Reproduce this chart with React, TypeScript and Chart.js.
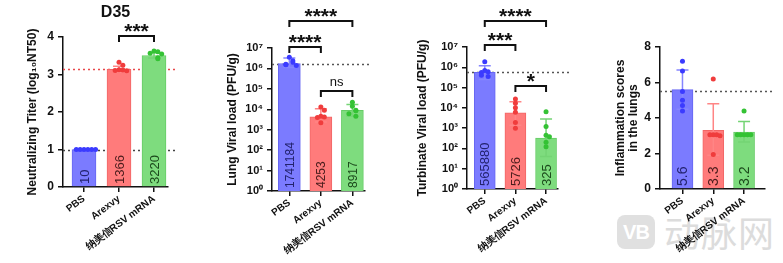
import React, { useEffect, useRef } from 'react';
import { Chart, registerables } from 'chart.js';

Chart.register(...registerables);

const H = 263;
const FONT = '"Liberation Sans", Arial, Helvetica, sans-serif';

// ---------- shared categories & colours ----------
const groups = ['PBS', 'Arexvy', '纳美信RSV mRNA'];
const barFill = ['#7b7bff', '#ff7b7b', '#7edc7e'];
const barEdge = ['#6666f2', '#f26666', '#66cc66'];
const dotColor = ['#3b3bff', '#f03c3c', '#34c234'];
const errColor = ['#8585ff', '#ff8585', '#74d474'];
const inBarText = ['#23236e', '#4a1c1c', '#1c4a1c'];

// ---------- Panel A: neutralizing titer (D35) ----------
const titerGMT = [10, 1366, 3220];
const titerDotsLog = [
  [1, 1, 1, 1, 1, 1],
  [3.33, 3.25, 3.13, 3.12, 3.11, 3.1],
  [3.63, 3.61, 3.57, 3.55, 3.45, 3.42],
];
const titerSdLow = [1.0, 3.06, 3.44];
const titerSdHigh = [1.0, 3.22, 3.58];
const titerTicks = [0, 1, 2, 3, 4];

// ---------- Panel B: lung viral load ----------
const lungMean = [1741184, 4253, 8917];
const lungDots = [
  [3.5e6, 2.4e6, 2.0e6, 1.6e6, 1.5e6, 1.4e6],
  [1.3e4, 9e3, 4.5e3, 4.2e3, 4e3, 2.2e3],
  [2.2e4, 1.4e4, 9e3, 8.5e3, 6e3, 4.5e3],
];
const lungSdLow = [1.1e6, 2.4e3, 4.5e3];
const lungSdHigh = [3.2e6, 1.05e4, 1.7e4];

// ---------- Panel C: turbinate viral load ----------
const turbMean = [565880, 5726, 325];
const turbDots = [
  [1.9e6, 7e5, 6e5, 5.5e5, 4e5, 3.5e5],
  [2.7e4, 1.7e4, 1e4, 6e3, 1.9e3, 1e3],
  [6.5e3, 1.2e3, 450, 380, 200, 120],
];
const turbSdLow = [2.5e5, 1.4e3, 40];
const turbSdHigh = [1.2e6, 2e4, 2.8e3];

const logTicks = [1, 10, 100, 1e3, 1e4, 1e5, 1e6, 1e7];

// ---------- Panel D: inflammation scores ----------
const inflMean = [5.6, 3.3, 3.2];
const inflDots = [
  [7.2, 6.65, 5.5, 5.0, 4.7, 4.4],
  [6.2, 3.05, 3.05, 3.05, 3.0, 1.95],
  [4.4, 3.05, 3.05, 3.05, 3.05, 3.05],
];
const inflSdLow = [4.5, 1.9, 2.65];
const inflSdHigh = [6.7, 4.8, 3.8];
const inflReference = 5.5;
const inflTicks = [0, 2, 4, 6, 8];

// ---------- significance brackets ----------
type Sig = { from: number; to: number; text: string };
const titerSig: Sig[] = [{ from: 1, to: 2, text: '***' }];
const lungSig: Sig[] = [
  { from: 0, to: 1, text: '****' },
  { from: 0, to: 2, text: '****' },
  { from: 1, to: 2, text: 'ns' },
];
const turbSig: Sig[] = [
  { from: 0, to: 1, text: '***' },
  { from: 0, to: 2, text: '****' },
  { from: 1, to: 2, text: '*' },
];

const supDigits = ['⁰', '¹', '²', '³', '⁴', '⁵', '⁶', '⁷', '⁸', '⁹'];
const powLabel = (v: number) => '10' + supDigits[Math.round(Math.log10(v))];

interface PanelCfg {
  left: number;
  width: number;
  area: { l: number; r: number; t: number; b: number };
  xRange: [number, number];
  barThickness: number;
  yType: 'linear' | 'logarithmic';
  yRange: [number, number];
  yTicks: number[];
  yTickLabel: (v: number) => string;
  yTickFont: number;
  yTitle: string | string[];
  yTitleX: number;
  bars: number[];
  barText: string[];
  barTextSize: number;
  dots: number[][];
  sdLow: number[];
  sdHigh: number[];
  refs: { value: number; color: string }[];
  refEnd: number;
  sig: Sig[];
  sigLevels: number[];
  title?: string;
}

const panels: PanelCfg[] = [
  {
    left: 0, width: 190,
    area: { l: 63, r: 168, t: 37, b: 187 },
    xRange: [-0.6, 2.4], barThickness: 24,
    yType: 'linear', yRange: [0, 4], yTicks: titerTicks,
    yTickLabel: (v) => String(v), yTickFont: 12,
    yTitle: 'Neutralizing Titer (log₁₀NT50)', yTitleX: 33,
    bars: titerGMT.map((v) => Math.log10(v)), barText: titerGMT.map(String), barTextSize: 13,
    dots: titerDotsLog, sdLow: titerSdLow, sdHigh: titerSdHigh,
    refs: [
      { value: Math.log10(titerGMT[1]), color: '#e8474a' },
      { value: Math.log10(titerGMT[0]), color: '#444444' },
    ],
    refEnd: 175, sig: titerSig, sigLevels: [4.03], title: 'D35',
  },
  {
    left: 190, width: 195,
    area: { l: 82, r: 175, t: 48, b: 191 },
    xRange: [-0.55, 2.4], barThickness: 22,
    yType: 'logarithmic', yRange: [1, 1e7], yTicks: logTicks,
    yTickLabel: powLabel, yTickFont: 11,
    yTitle: 'Lung Viral load (PFU/g)', yTitleX: 43,
    bars: lungMean, barText: lungMean.map(String), barTextSize: 12,
    dots: lungDots, sdLow: lungSdLow, sdHigh: lungSdHigh,
    refs: [{ value: lungMean[0], color: '#555555' }],
    refEnd: 182, sig: lungSig, sigLevels: [1.12e7, 2.0e8, 8.3e4],
  },
  {
    left: 390, width: 195,
    area: { l: 77, r: 168, t: 47, b: 189 },
    xRange: [-0.58, 2.39], barThickness: 21,
    yType: 'logarithmic', yRange: [1, 1e7], yTicks: logTicks,
    yTickLabel: powLabel, yTickFont: 11,
    yTitle: 'Turbinate Viral load (PFU/g)', yTitleX: 33,
    bars: turbMean, barText: turbMean.map(String), barTextSize: 13,
    dots: turbDots, sdLow: turbSdLow, sdHigh: turbSdHigh,
    refs: [{ value: turbMean[0], color: '#555555' }],
    refEnd: 180, sig: turbSig, sigLevels: [1.2e7, 2.0e8, 1.23e5],
  },
  {
    left: 590, width: 193,
    area: { l: 70, r: 175, t: 47, b: 189 },
    xRange: [-0.73, 2.68], barThickness: 21,
    yType: 'linear', yRange: [0, 8], yTicks: inflTicks,
    yTickLabel: (v) => String(v), yTickFont: 12,
    yTitle: ['Inflammation scores', 'in the lungs'], yTitleX: 31,
    bars: inflMean, barText: inflMean.map((v) => v.toFixed(1)), barTextSize: 14,
    dots: inflDots, sdLow: inflSdLow, sdHigh: inflSdHigh,
    refs: [{ value: inflReference, color: '#555555' }],
    refEnd: 185, sig: [], sigLevels: [],
  },
];

// horizontal spreading of points that share (nearly) the same height
function swarm(norm: number[], tol: number, step: number): number[] {
  return norm.map((v, k) => {
    let n = 0;
    for (let j = 0; j < k; j++) if (Math.abs(norm[j] - v) < tol) n++;
    if (n === 0) return 0;
    return (n % 2 === 1 ? 1 : -1) * Math.ceil(n / 2) * step;
  });
}

function decorPlugin(p: PanelCfg) {
  return {
    id: 'decor',
    beforeDatasetsDraw(chart: any) {
      const { ctx, chartArea, scales } = chart;
      ctx.save();
      ctx.lineWidth = 1.5;
      ctx.setLineDash([2, 3]);
      p.refs.forEach((r) => {
        const y = Math.round(scales.y.getPixelForValue(r.value)) + 0.5;
        ctx.strokeStyle = r.color;
        ctx.beginPath();
        ctx.moveTo(chartArea.left, y);
        ctx.lineTo(p.refEnd, y);
        ctx.stroke();
      });
      ctx.restore();
    },
    afterDatasetDraw(chart: any, args: any) {
      if (args.index !== 0) return;
      const { ctx, chartArea, scales } = chart;
      ctx.save();
      // error bars
      ctx.lineWidth = 1.5;
      p.bars.forEach((_, i) => {
        const lo = p.sdLow[i];
        const hi = p.sdHigh[i];
        if (lo === hi) return;
        const x = scales.x.getPixelForValue(i);
        const y1 = scales.y.getPixelForValue(lo);
        const y2 = scales.y.getPixelForValue(hi);
        ctx.strokeStyle = errColor[i];
        ctx.beginPath();
        ctx.moveTo(x, y1);
        ctx.lineTo(x, y2);
        ctx.moveTo(x - 6, y1);
        ctx.lineTo(x + 6, y1);
        ctx.moveTo(x - 6, y2);
        ctx.lineTo(x + 6, y2);
        ctx.stroke();
      });
      // values written inside bars
      ctx.font = `${p.barTextSize}px ${FONT}`;
      ctx.textAlign = 'left';
      ctx.textBaseline = 'middle';
      p.barText.forEach((t, i) => {
        const x = scales.x.getPixelForValue(i);
        ctx.save();
        ctx.translate(x, chartArea.bottom - 3);
        ctx.rotate(-Math.PI / 2);
        ctx.fillStyle = inBarText[i];
        ctx.fillText(t, 0, 1);
        ctx.restore();
      });
      ctx.restore();
    },
    afterDraw(chart: any) {
      const { ctx, chartArea, scales } = chart;
      ctx.save();
      ctx.strokeStyle = '#111';
      ctx.fillStyle = '#111';
      ctx.lineWidth = 2;
      p.sig.forEach((s, k) => {
        const y = Math.round(scales.y.getPixelForValue(p.sigLevels[k]));
        const x1 = scales.x.getPixelForValue(s.from);
        const x2 = scales.x.getPixelForValue(s.to);
        ctx.beginPath();
        ctx.moveTo(x1, y + 6);
        ctx.lineTo(x1, y);
        ctx.lineTo(x2, y);
        ctx.lineTo(x2, y + 6);
        ctx.stroke();
        const cx = (x1 + x2) / 2;
        ctx.textAlign = 'center';
        if (s.text.startsWith('*')) {
          const size = 21;
          ctx.font = `bold ${size}px ${FONT}`;
          ctx.textBaseline = 'alphabetic';
          ctx.fillText(s.text, cx, y - 10 + 0.58 * size);
        } else {
          ctx.font = `13px ${FONT}`;
          ctx.textBaseline = 'middle';
          ctx.fillText(s.text, cx, y - 9);
        }
      });
      if (p.title) {
        ctx.font = `bold 16px ${FONT}`;
        ctx.textAlign = 'center';
        ctx.textBaseline = 'middle';
        ctx.fillText(p.title, (chartArea.left + chartArea.right) / 2, 13);
      }
      ctx.restore();
    },
  };
}

function buildConfig(p: PanelCfg): any {
  const isLog = p.yType === 'logarithmic';
  const [y0, y1] = p.yRange;
  const norm = (v: number) =>
    isLog
      ? (Math.log10(v) - Math.log10(y0)) / (Math.log10(y1) - Math.log10(y0))
      : (v - y0) / (y1 - y0);
  const dotData: { x: number; y: number }[] = [];
  const dotCols: string[] = [];
  p.dots.forEach((vals, i) => {
    const offs = swarm(vals.map(norm), 0.028, 0.11);
    vals.forEach((v, k) => {
      dotData.push({ x: i + offs[k], y: v });
      dotCols.push(dotColor[i]);
    });
  });

  const axisColor = '#111';
  const titleLH = 13;

  return {
    type: 'bar',
    data: {
      datasets: [
        {
          type: 'bar',
          data: p.bars.map((v, i) => ({ x: i, y: v })),
          backgroundColor: barFill,
          borderColor: barEdge,
          borderWidth: 1,
          barThickness: p.barThickness,
          order: 2,
        },
        {
          type: 'scatter',
          data: dotData,
          pointBackgroundColor: dotCols,
          pointBorderWidth: 0,
          pointRadius: 2.5,
          order: 1,
        },
      ],
    },
    options: {
      responsive: false,
      maintainAspectRatio: false,
      animation: false,
      devicePixelRatio: 1,
      events: [],
      layout: { padding: { top: p.area.t, right: p.width - p.area.r, left: 0, bottom: 0 } },
      plugins: { legend: { display: false }, tooltip: { enabled: false }, title: { display: false } },
      scales: {
        x: {
          type: 'linear',
          min: p.xRange[0],
          max: p.xRange[1],
          offset: false,
          afterBuildTicks: (s: any) => {
            s.ticks = groups.map((_, i) => ({ value: i }));
          },
          afterFit: (s: any) => {
            s.height = H - p.area.b;
          },
          ticks: {
            autoSkip: false,
            minRotation: 37,
            maxRotation: 37,
            padding: 1,
            color: '#111',
            font: { family: FONT, size: 10, weight: 'bold' },
            callback: (v: number) => groups[Math.round(v)] ?? '',
          },
          grid: { offset: false, drawOnChartArea: false, drawTicks: true, tickLength: 5, color: axisColor, lineWidth: 1.5 },
          border: { display: true, color: axisColor, width: 1.5 },
        },
        y: {
          type: p.yType,
          min: y0,
          max: y1,
          afterBuildTicks: (s: any) => {
            s.ticks = p.yTicks.map((v) => ({ value: v, major: true }));
          },
          afterFit: (s: any) => {
            s.width = p.area.l;
          },
          ticks: {
            padding: 4,
            color: '#111',
            font: { family: FONT, size: p.yTickFont, weight: 'bold' },
            callback: (v: number) => p.yTickLabel(v),
          },
          grid: { drawOnChartArea: false, drawTicks: true, tickLength: 5, color: axisColor, lineWidth: 1.5 },
          border: { display: true, color: axisColor, width: 1.5 },
          title: {
            display: true,
            text: p.yTitle,
            color: '#111',
            font: { family: FONT, size: 12, weight: 'bold', lineHeight: `${titleLH}px` },
            padding: { top: p.yTitleX - titleLH / 2, bottom: 0 },
          },
        },
      },
    },
    plugins: [decorPlugin(p)],
  };
}

function Panel({ cfg }: { cfg: PanelCfg }) {
  const ref = useRef<HTMLCanvasElement>(null);
  useEffect(() => {
    if (!ref.current) return;
    const chart = new Chart(ref.current, buildConfig(cfg));
    return () => chart.destroy();
  }, [cfg]);
  return (
    <canvas
      ref={ref}
      width={cfg.width}
      height={H}
      style={{ position: 'absolute', left: cfg.left, top: 0, width: cfg.width, height: H }}
    />
  );
}

export default function App() {
  return (
    <div
      style={{
        position: 'absolute',
        left: 0,
        top: 0,
        width: 783,
        height: H,
        background: '#ffffff',
        overflow: 'hidden',
      }}
    >
      {/* watermark */}
      <div
        style={{
          position: 'absolute',
          left: 617,
          top: 215,
          width: 38,
          height: 34,
          borderRadius: 8,
          background: '#e0e0e0',
          color: '#ffffff',
          fontFamily: FONT,
          fontWeight: 'bold',
          fontSize: 20,
          lineHeight: '34px',
          textAlign: 'center',
          letterSpacing: -1,
        }}
      >
        VB
      </div>
      <div
        style={{
          position: 'absolute',
          left: 664,
          top: 213,
          fontFamily: '"Noto Sans CJK SC", sans-serif',
          fontSize: 36,
          lineHeight: '36px',
          color: '#dcdcdc',
          letterSpacing: 1,
          whiteSpace: 'nowrap',
        }}
      >
        动脉网
      </div>
      {panels.map((p, i) => (
        <Panel key={i} cfg={p} />
      ))}
    </div>
  );
}
